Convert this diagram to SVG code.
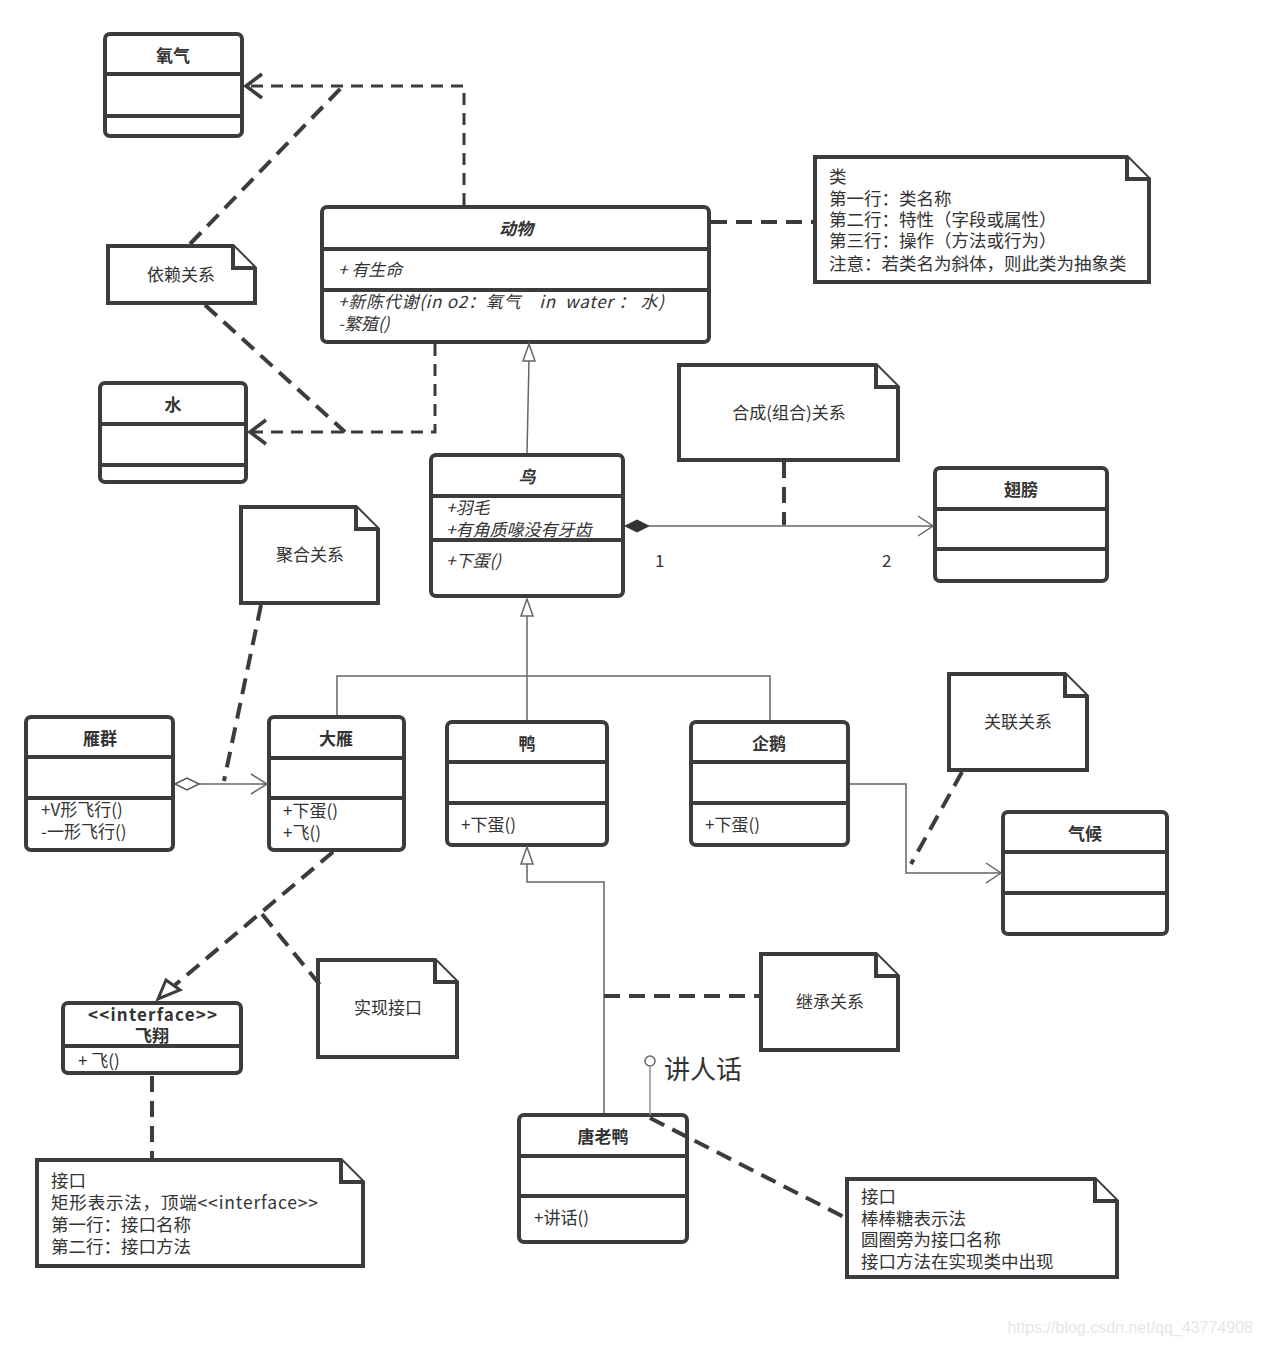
<svg xmlns="http://www.w3.org/2000/svg" width="1263" height="1345" viewBox="0 0 1263 1345">
<defs>
<style>
.box{fill:#fff;stroke:#3c3c3c;stroke-width:4}
.sep{stroke:#3c3c3c;stroke-width:4}
.note{fill:#fff;stroke:#3c3c3c;stroke-width:4;stroke-linejoin:miter}
.fold{fill:#fff;stroke:#3c3c3c;stroke-width:4}
.t{font-family:"Noto Sans CJK SC","Liberation Sans",sans-serif;font-size:17px;fill:#333}
.n{font-size:17.5px}
.b{font-weight:bold;text-anchor:middle}
.i{font-style:italic}
.c{text-anchor:middle}
.dash{fill:none;stroke:#3c3c3c;stroke-width:4;stroke-dasharray:16 9}
.dash2{fill:none;stroke:#3c3c3c;stroke-width:3;stroke-dasharray:12 8}
.thin{fill:none;stroke:#666;stroke-width:1.5}
.arr{fill:none;stroke:#3c3c3c;stroke-width:3.5}
.tarr{fill:none;stroke:#666;stroke-width:1.5}
</style>
</defs>

<g id="oxygen">
  <rect class="box" x="105" y="34" width="137" height="102" rx="5"/>
  <line class="sep" x1="105" y1="74" x2="242" y2="74"/>
  <line class="sep" x1="105" y1="116" x2="242" y2="116"/>
  <text class="t b" x="173" y="62">氧气</text>
</g>

<g id="animal">
  <rect class="box" x="322" y="207" width="387" height="135" rx="5"/>
  <line class="sep" x1="322" y1="249" x2="709" y2="249"/>
  <line class="sep" x1="322" y1="290" x2="709" y2="290"/>
  <text class="t b i" x="516" y="235">动物</text>
  <text class="t i" x="338" y="276">+ 有生命</text>
  <text class="t i" x="338" y="308" xml:space="preserve" textLength="326" lengthAdjust="spacing">+新陈代谢(in o2：氧气    in  water ： 水)</text>
  <text class="t i" x="338" y="330">-繁殖()</text>
</g>

<g id="note-class">
  <path class="note" d="M815,157 H1127 L1149,179 V282 H815 Z"/>
  <path class="fold" d="M1127,157 V179 H1149"/>
  <text class="t n" x="829" y="183">类</text>
  <text class="t n" x="829" y="205">第一行：类名称</text>
  <text class="t n" x="829" y="226">第二行：特性（字段或属性）</text>
  <text class="t n" x="829" y="247">第三行：操作（方法或行为）</text>
  <text class="t n" x="829" y="270">注意：若类名为斜体，则此类为抽象类</text>
</g>

<g id="note-dependency">
  <path class="note" d="M108,246 H233 L255,268 V303 H108 Z"/>
  <path class="fold" d="M233,246 V268 H255"/>
  <text class="t c" x="181" y="281">依赖关系</text>
</g>

<g id="water">
  <rect class="box" x="100" y="383" width="146" height="99" rx="5"/>
  <line class="sep" x1="100" y1="424" x2="246" y2="424"/>
  <line class="sep" x1="100" y1="465" x2="246" y2="465"/>
  <text class="t b" x="173" y="411">水</text>
</g>

<g id="note-composition">
  <path class="note" d="M679,365 H876 L898,387 V460 H679 Z"/>
  <path class="fold" d="M876,365 V387 H898"/>
  <text class="t c" x="789" y="419">合成(组合)关系</text>
</g>

<g id="bird">
  <rect class="box" x="431" y="455" width="192" height="141" rx="5"/>
  <line class="sep" x1="431" y1="496" x2="623" y2="496"/>
  <line class="sep" x1="431" y1="540" x2="623" y2="540"/>
  <text class="t b i" x="527" y="483">鸟</text>
  <text class="t i" x="446" y="514">+羽毛</text>
  <text class="t i" x="446" y="536">+有角质喙没有牙齿</text>
  <text class="t i" x="446" y="567">+下蛋()</text>
</g>

<g id="labels-composition">
  <text class="t" x="655" y="567">1</text>
  <text class="t" x="882" y="567">2</text>
</g>

<g id="wing">
  <rect class="box" x="935" y="468" width="172" height="113" rx="5"/>
  <line class="sep" x1="935" y1="509" x2="1107" y2="509"/>
  <line class="sep" x1="935" y1="549" x2="1107" y2="549"/>
  <text class="t b" x="1021" y="496">翅膀</text>
</g>

<g id="note-aggregation">
  <path class="note" d="M241,507 H356 L378,529 V603 H241 Z"/>
  <path class="fold" d="M356,507 V529 H378"/>
  <text class="t c" x="310" y="561">聚合关系</text>
</g>

<g id="goose-flock">
  <rect class="box" x="26" y="717" width="147" height="133" rx="5"/>
  <line class="sep" x1="26" y1="757" x2="173" y2="757"/>
  <line class="sep" x1="26" y1="798" x2="173" y2="798"/>
  <text class="t b" x="100" y="745">雁群</text>
  <text class="t" x="41" y="816">+V形飞行()</text>
  <text class="t" x="41" y="838">-一形飞行()</text>
</g>

<g id="goose">
  <rect class="box" x="269" y="717" width="135" height="133" rx="5"/>
  <line class="sep" x1="269" y1="758" x2="404" y2="758"/>
  <line class="sep" x1="269" y1="798" x2="404" y2="798"/>
  <text class="t b" x="336" y="745">大雁</text>
  <text class="t" x="283" y="817">+下蛋()</text>
  <text class="t" x="283" y="839">+飞()</text>
</g>

<g id="duck">
  <rect class="box" x="447" y="722" width="160" height="123" rx="5"/>
  <line class="sep" x1="447" y1="762" x2="607" y2="762"/>
  <line class="sep" x1="447" y1="803" x2="607" y2="803"/>
  <text class="t b" x="527" y="750">鸭</text>
  <text class="t" x="461" y="831">+下蛋()</text>
</g>

<g id="penguin">
  <rect class="box" x="691" y="722" width="157" height="123" rx="5"/>
  <line class="sep" x1="691" y1="762" x2="848" y2="762"/>
  <line class="sep" x1="691" y1="803" x2="848" y2="803"/>
  <text class="t b" x="769" y="750">企鹅</text>
  <text class="t" x="705" y="831">+下蛋()</text>
</g>

<g id="note-association">
  <path class="note" d="M949,674 H1065 L1087,696 V770 H949 Z"/>
  <path class="fold" d="M1065,674 V696 H1087"/>
  <text class="t c" x="1018" y="728">关联关系</text>
</g>

<g id="climate">
  <rect class="box" x="1003" y="812" width="164" height="122" rx="5"/>
  <line class="sep" x1="1003" y1="852" x2="1167" y2="852"/>
  <line class="sep" x1="1003" y1="893" x2="1167" y2="893"/>
  <text class="t b" x="1085" y="840">气候</text>
</g>

<g id="note-realization">
  <path class="note" d="M318,960 H435 L457,982 V1057 H318 Z"/>
  <path class="fold" d="M435,960 V982 H457"/>
  <text class="t c" x="388" y="1014">实现接口</text>
</g>

<g id="interface-fly">
  <rect class="box" x="63" y="1003" width="178" height="70" rx="5"/>
  <line class="sep" x1="63" y1="1046" x2="241" y2="1046"/>
  <text class="t" x="88" y="1021" font-weight="bold" textLength="129" lengthAdjust="spacing">&lt;&lt;interface&gt;&gt;</text>
  <text class="t b" x="152" y="1042">飞翔</text>
  <text class="t" x="78" y="1067">+ 飞()</text>
</g>

<g id="note-interface-rect">
  <path class="note" d="M37,1160 H341 L363,1182 V1266 H37 Z"/>
  <path class="fold" d="M341,1160 V1182 H363"/>
  <text class="t n" x="51" y="1187">接口</text>
  <text class="t n" x="51" y="1209" textLength="267" lengthAdjust="spacing">矩形表示法，顶端&lt;&lt;interface&gt;&gt;</text>
  <text class="t n" x="51" y="1231">第一行：接口名称</text>
  <text class="t n" x="51" y="1253">第二行：接口方法</text>
</g>

<g id="note-inheritance">
  <path class="note" d="M761,954 H876 L898,976 V1050 H761 Z"/>
  <path class="fold" d="M876,954 V976 H898"/>
  <text class="t c" x="830" y="1008">继承关系</text>
</g>

<g id="lollipop-label">
  <text x="664" y="1079" style="font-family:'Noto Sans CJK SC','Liberation Sans',sans-serif;font-size:26px;fill:#333">讲人话</text>
</g>

<g id="donald">
  <rect class="box" x="519" y="1115" width="168" height="127" rx="5"/>
  <line class="sep" x1="519" y1="1156" x2="687" y2="1156"/>
  <line class="sep" x1="519" y1="1196" x2="687" y2="1196"/>
  <text class="t b" x="603" y="1143">唐老鸭</text>
  <text class="t" x="534" y="1224">+讲话()</text>
</g>

<g id="note-interface-lollipop">
  <path class="note" d="M847,1179 H1095 L1117,1201 V1277 H847 Z"/>
  <path class="fold" d="M1095,1179 V1201 H1117"/>
  <text class="t n" x="861" y="1203">接口</text>
  <text class="t n" x="861" y="1225">棒棒糖表示法</text>
  <text class="t n" x="861" y="1246">圆圈旁为接口名称</text>
  <text class="t n" x="861" y="1268">接口方法在实现类中出现</text>
</g>

<g id="connectors">
  <!-- dependency to 氧气 -->
  <polyline class="dash2" points="464,205 464,86 246,86"/>
  <polyline class="arr" points="262,74 246,86 262,98"/>
  <line class="dash" x1="190" y1="244" x2="341" y2="88"/>
  <!-- dependency to 水 -->
  <polyline class="dash2" points="435,344 435,432 250,432"/>
  <polyline class="arr" points="266,420 250,432 266,444"/>
  <line class="dash" x1="205" y1="305" x2="345" y2="432"/>
  <!-- note line 动物 -> 类 note -->
  <line class="dash" x1="711" y1="222" x2="813" y2="222"/>
  <!-- generalization 鸟 -> 动物 -->
  <line class="thin" x1="527" y1="453" x2="529" y2="360"/>
  <polygon points="529,344 523,361 535,361" fill="#fff" stroke="#666" stroke-width="1.5"/>
  <!-- composition 鸟 -> 翅膀 -->
  <line class="thin" x1="649" y1="526" x2="933" y2="526"/>
  <polygon points="625,526 637,520 649,526 637,532" fill="#333" stroke="#333" stroke-width="1"/>
  <polyline class="tarr" points="918,516 933,526 918,536"/>
  <line class="dash" x1="784" y1="462" x2="784" y2="525"/>
  <!-- generalization tree to 鸟 -->
  <line class="thin" x1="527" y1="616" x2="527" y2="720"/>
  <polygon points="527,599 521,616 533,616" fill="#fff" stroke="#666" stroke-width="1.5"/>
  <polyline class="thin" points="337,715 337,676 770,676 770,720"/>
  <!-- aggregation 雁群 -> 大雁 -->
  <polygon points="175,784 187,778 199,784 187,790" fill="#fff" stroke="#555" stroke-width="1.5"/>
  <line class="thin" x1="199" y1="784" x2="267" y2="784"/>
  <polyline class="tarr" points="251,774 267,784 251,794"/>
  <line class="dash" x1="261" y1="605" x2="224" y2="781"/>
  <!-- association 企鹅 -> 气候 -->
  <polyline class="thin" points="850,784 906,784 906,873 1001,873"/>
  <polyline class="tarr" points="986,863 1001,873 986,883"/>
  <line class="dash" x1="962" y1="772" x2="911" y2="864"/>
  <!-- realization 大雁 -> 飞翔 -->
  <line class="dash" x1="333" y1="852" x2="175" y2="985"/>
  <polygon points="158,999 166,980 180,990" fill="#fff" stroke="#3c3c3c" stroke-width="3"/>
  <line class="dash" x1="262" y1="914" x2="320" y2="985"/>
  <!-- interface note -->
  <line class="dash" x1="152" y1="1076" x2="152" y2="1158"/>
  <!-- generalization 唐老鸭 -> 鸭 -->
  <polyline class="thin" points="604,1113 604,882 527,882 527,863"/>
  <polygon points="527,847 521,864 533,864" fill="#fff" stroke="#666" stroke-width="1.5"/>
  <line class="dash" x1="604" y1="996" x2="759" y2="996"/>
  <!-- lollipop -->
  <line x1="650" y1="1067" x2="650" y2="1115" stroke="#a08a8a" stroke-width="1.5"/>
  <circle cx="650" cy="1061" r="5" fill="#fff" stroke="#666" stroke-width="1.5"/>
  <line class="dash" x1="650" y1="1118" x2="846" y2="1218"/>
</g>

<text x="1253" y="1333" text-anchor="end" style="font-family:'Liberation Sans',sans-serif;font-size:16px;fill:#e6e6e6">https://blog.csdn.net/qq_43774908</text>
</svg>
